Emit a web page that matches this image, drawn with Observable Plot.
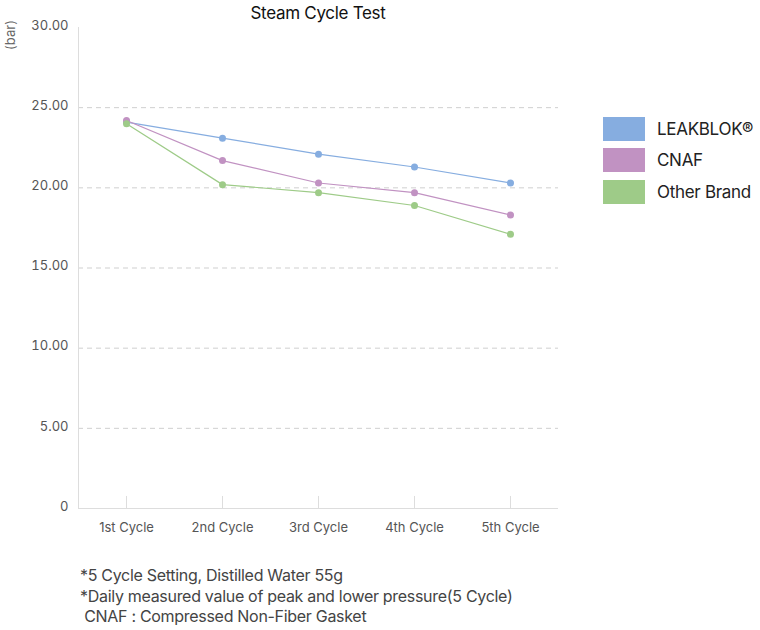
<!DOCTYPE html>
<html>
<head>
<meta charset="utf-8">
<script src="https://cdn.jsdelivr.net/npm/d3@7"></script>
<script src="https://cdn.jsdelivr.net/npm/@observablehq/plot@0.6"></script>
<style>
  html, body { margin: 0; padding: 0; background: #fff; }
  #wrap { position: relative; width: 760px; height: 630px; font-family: Inter, "Noto Sans", sans-serif; }
  #title { position: absolute; top: 3px; left: 0; width: 636px; text-align: center; font-size: 17px; font-weight: 400; color: #111; letter-spacing: -0.3px; }
  #unit { position: absolute; left: 10px; top: 35px; transform: translate(-50%, -50%) rotate(-90deg); font-size: 13px; color: #666; }
  #legend { position: absolute; left: 603px; top: 113px; }
  .li { display: flex; align-items: center; height: 31.5px; font-size: 17px; color: #222; letter-spacing: -0.3px; }
  .sw { width: 42px; height: 24px; margin-right: 12px; }
  #notes { position: absolute; left: 80px; top: 565px; font-size: 16px; color: #444; line-height: 20.5px; letter-spacing: -0.3px; }
  #chart { position: absolute; left: 0; top: 0; }
</style>
</head>
<body>
<div id="wrap">
  <div id="chart"></div>
  <div id="title">Steam Cycle Test</div>
  <div id="unit">(bar)</div>
  <div id="legend"></div>
  <div id="notes"></div>
</div>
<script>
const cycles = ["1st Cycle", "2nd Cycle", "3rd Cycle", "4th Cycle", "5th Cycle"];
const seriesNames = ["LEAKBLOK®", "CNAF", "Other Brand"];
const seriesColors = ["#86ade0", "#c192c2", "#9ecb88"];
const leakblok = [24.1, 23.1, 22.1, 21.3, 20.3];
const cnaf = [24.2, 21.7, 20.3, 19.7, 18.3];
const otherBrand = [24.0, 20.2, 19.7, 18.9, 17.1];
const yTicks = [0, 5, 10, 15, 20, 25, 30];
const gridTicks = [5, 10, 15, 20, 25];
const notes = [
  "*5 Cycle Setting, Distilled Water 55g",
  "*Daily measured value of peak and lower pressure(5 Cycle)",
  "\u00a0CNAF : Compressed Non-Fiber Gasket"
];

const valuesBySeries = [leakblok, cnaf, otherBrand];
const data = [];
seriesNames.forEach((s, i) => {
  cycles.forEach((c, j) => data.push({series: s, cycle: c, value: valuesBySeries[i][j]}));
});

const chart = Plot.plot({
  width: 760,
  height: 545,
  marginLeft: 78,
  marginRight: 202,
  marginTop: 27,
  marginBottom: 37,
  style: {fontFamily: "Inter, 'Noto Sans', sans-serif", fontSize: "13px", color: "#555", background: "transparent"},
  x: {type: "band", domain: cycles, padding: 0, label: null},
  y: {domain: [0, 30], label: null},
  color: {domain: seriesNames, range: seriesColors},
  marks: [
    Plot.gridY(gridTicks, {stroke: "#cfcfcf", strokeOpacity: 1, strokeDasharray: "5,4"}),
    Plot.frame({anchor: "left", stroke: "#dddddd"}),
    Plot.ruleY([0], {stroke: "#dddddd"}),
    Plot.ruleX(cycles, {x: d => d, y1: 0, y2: 0.75, stroke: "#dddddd"}),
    Plot.axisX({tickSize: 0, tickPadding: 14, fill: "#555", fontSize: 13, label: null}),
    Plot.axisY(yTicks, {tickSize: 0, tickPadding: 10, dy: -2, fill: "#555", fontSize: 13, label: null,
      tickFormat: d => d === 0 ? "0" : d3.format(".2f")(d)}),
    Plot.line(data, {x: "cycle", y: "value", z: "series", stroke: "series", strokeWidth: 1.2}),
    Plot.dot(data, {x: "cycle", y: "value", fill: "series", r: 3.5})
  ]
});
document.getElementById("chart").appendChild(chart);

const legend = document.getElementById("legend");
seriesNames.forEach((s, i) => {
  const row = document.createElement("div");
  row.className = "li";
  const sw = document.createElement("div");
  sw.className = "sw";
  sw.style.background = seriesColors[i];
  row.appendChild(sw);
  const t = document.createElement("span");
  t.textContent = s;
  row.appendChild(t);
  legend.appendChild(row);
});

const notesEl = document.getElementById("notes");
notes.forEach(n => {
  const d = document.createElement("div");
  d.textContent = n;
  notesEl.appendChild(d);
});
</script>
</body>
</html>
